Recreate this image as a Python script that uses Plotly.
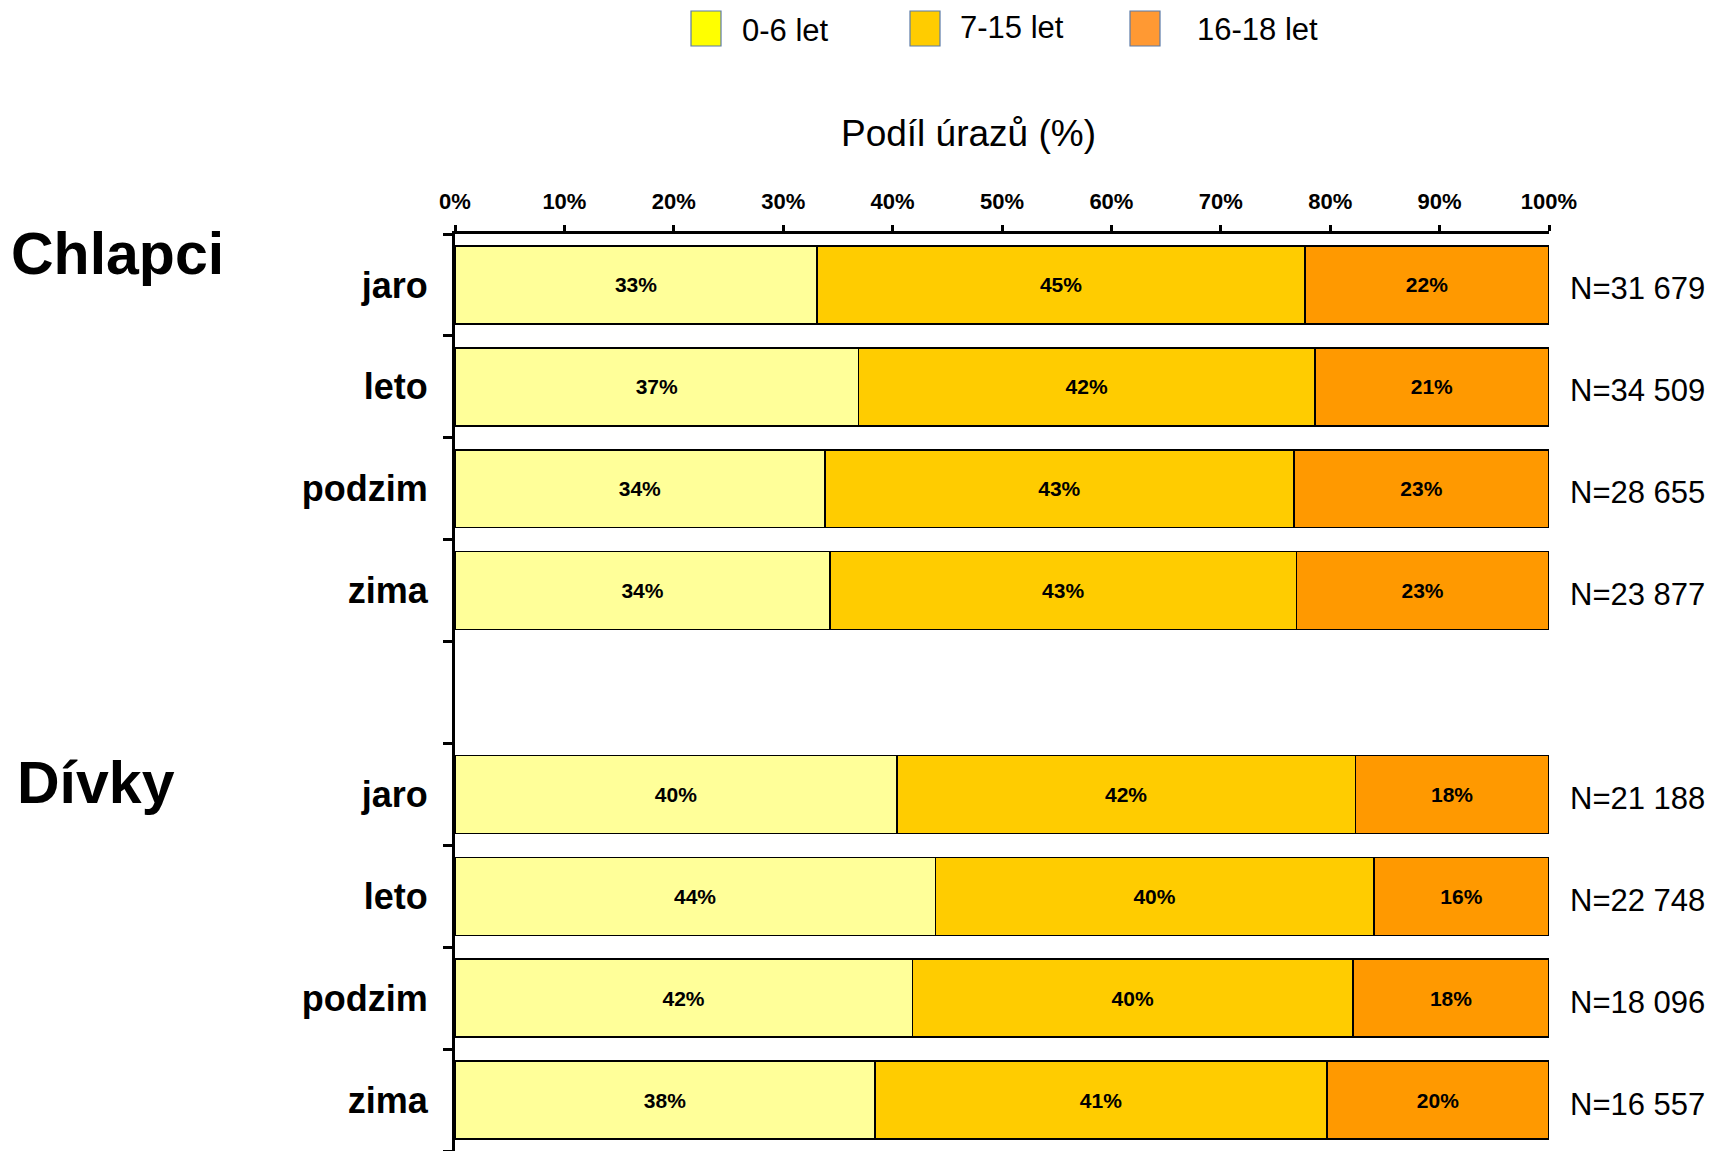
import plotly.graph_objects as go

# ---- data ----
seasons = ["jaro", "leto", "podzim", "zima"]
groups = ["Chlapci", "Dívky"]
age_groups = ["0-6 let", "7-15 let", "16-18 let"]

chlapci_0_6 = [33.1, 36.9, 33.8, 34.3]
chlapci_7_15 = [44.6, 41.7, 42.9, 42.6]
chlapci_16_18 = [22.3, 21.4, 23.3, 23.1]

divky_0_6 = [40.4, 43.9, 41.8, 38.4]
divky_7_15 = [41.9, 40.1, 40.3, 41.3]
divky_16_18 = [17.7, 16.0, 17.9, 20.3]

n_chlapci = ["N=31 679", "N=34 509", "N=28 655", "N=23 877"]
n_divky = ["N=21 188", "N=22 748", "N=18 096", "N=16 557"]

x_ticks = list(range(0, 101, 10))

# ---- style ----
bar_colors = ["#FFFF99", "#FFCC00", "#FF9900"]
legend_colors = ["#FFFF00", "#FFCC00", "#FF9933"]
FONT = "Liberation Sans, Arial, sans-serif"

OFF = 8  # page body margin
W, H = 1715 - OFF, 1151 - OFF
# plot area in target (window) pixels
PX0, PX1, PY0, PY1 = 455, 1549, 234, 1151
L, R, T, B = PX0 - OFF, W - (PX1 - OFF), PY0 - OFF, H - (PY1 - OFF)
PW, PH = PX1 - PX0, PY1 - PY0


def px(x):
    return (x - PX0) / PW


def py(y):
    return (PY1 - y) / PH


# slot positions: 4 seasons, one empty slot, 4 seasons
y_pos_ch = list(range(len(seasons)))
y_pos_dv = [i + len(seasons) + 1 for i in range(len(seasons))]
y_all = y_pos_ch + y_pos_dv
n_slots = len(seasons) * 2 + 1

series = [
    chlapci_0_6 + divky_0_6,
    chlapci_7_15 + divky_7_15,
    chlapci_16_18 + divky_16_18,
]

fig = go.Figure()
for name, vals, col in zip(age_groups, series, bar_colors):
    fig.add_trace(go.Bar(
        x=vals, y=y_all, orientation="h", name=name,
        marker=dict(color=col, line=dict(color="black", width=1.5)),
        text=[f"{round(v)}%" for v in vals],
        textposition="inside", insidetextanchor="middle", textangle=0,
        textfont=dict(family=FONT, size=21, color="black", weight="bold"),
        constraintext="none",
        width=0.765, showlegend=False, hoverinfo="skip",
    ))

annotations = []
# N labels
for yv, t in zip(y_all, n_chlapci + n_divky):
    annotations.append(dict(
        x=px(1568), xref="paper", y=yv, yref="y", text=t, showarrow=False,
        xanchor="left", yanchor="middle", yshift=-4,
        font=dict(family=FONT, size=31, color="black"),
    ))

# group titles
annotations.append(dict(x=px(9), xref="paper", y=py(254), yref="paper", text="<b>Chlapci</b>",
                        showarrow=False, xanchor="left", yanchor="middle",
                        font=dict(family=FONT, size=59, color="black")))
annotations.append(dict(x=px(15), xref="paper", y=py(783), yref="paper", text="<b>Dívky</b>",
                        showarrow=False, xanchor="left", yanchor="middle",
                        font=dict(family=FONT, size=59, color="black")))

# axis title
annotations.append(dict(x=px(968), xref="paper", y=py(133), yref="paper", text="Podíl úrazů (%)",
                        showarrow=False, xanchor="center", yanchor="middle",
                        font=dict(family=FONT, size=37, color="black")))

# legend
shapes = []
legend_box_x = [691, 910, 1130]
legend_text_x = [740, 958, 1195]
legend_text_y = [31, 27, 30]
for name, col, bx, tx, ty in zip(age_groups, legend_colors, legend_box_x, legend_text_x, legend_text_y):
    shapes.append(dict(type="rect", xref="paper", yref="paper",
                       x0=px(bx), x1=px(bx + 30), y0=py(11), y1=py(46),
                       fillcolor=col, line=dict(color="#5B7BA8", width=1.2)))
    annotations.append(dict(x=px(tx), xref="paper", y=py(ty), yref="paper", text=name,
                            showarrow=False, xanchor="left", yanchor="middle",
                            font=dict(family=FONT, size=31, color="black")))

fig.update_layout(
    barmode="stack",
    width=W, height=H,
    margin=dict(l=L, r=R, t=T, b=B, pad=0),
    paper_bgcolor="white", plot_bgcolor="white",
    font=dict(family=FONT, color="black"),
    annotations=annotations, shapes=shapes,
    xaxis=dict(
        side="top", range=[0, 100], tickvals=x_ticks,
        ticktext=[f"{v}%" for v in x_ticks],
        tickfont=dict(family=FONT, size=22, color="black", weight="bold"),
        ticks="outside", ticklen=6, tickwidth=2.5, tickcolor="black",
        showline=True, linecolor="black", linewidth=3,
        showgrid=False, zeroline=False, fixedrange=True,
        ticklabelstandoff=7,
    ),
    yaxis=dict(
        range=[n_slots - 0.5, -0.5],
        tickvals=y_all, ticktext=seasons + seasons,
        tickfont=dict(family=FONT, size=36, color="black", weight="bold"),
        ticks="", showline=True, linecolor="black", linewidth=3,
        showgrid=False, zeroline=False, fixedrange=True,
        ticklabelstandoff=17,
        minor=dict(tickvals=[i - 0.5 for i in range(n_slots + 1)], ticks="outside",
                   ticklen=9, tickwidth=2.5, tickcolor="black", showgrid=False),
    ),
)

fig.write_html("out.html")
